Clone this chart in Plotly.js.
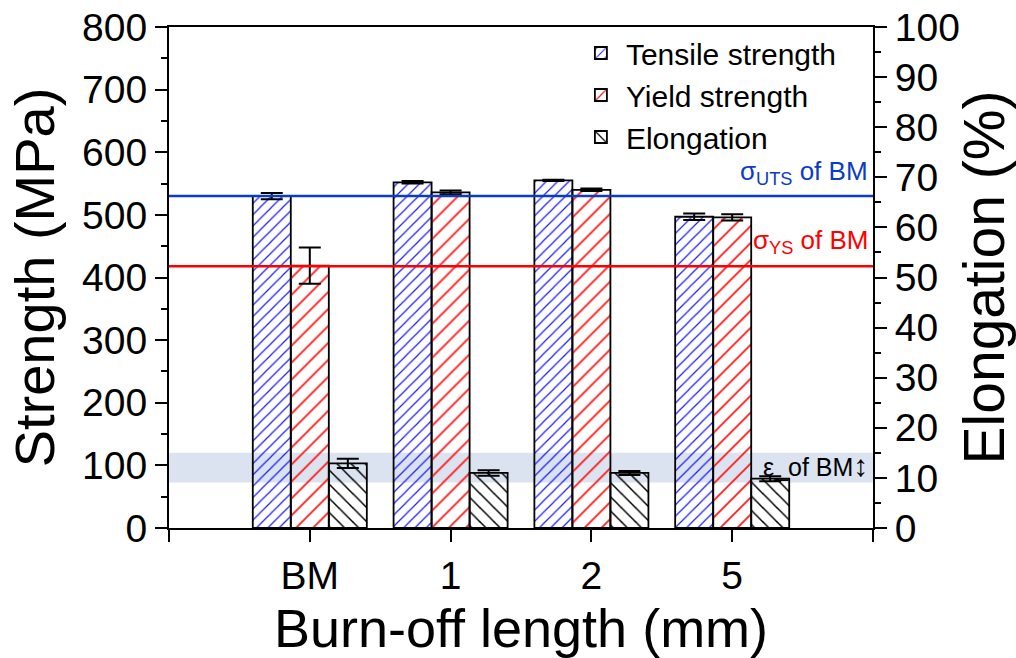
<!DOCTYPE html>
<html>
<head>
<meta charset="utf-8">
<script src="https://cdn.plot.ly/plotly-3.0.1.min.js"></script>
<style>html,body{margin:0;padding:0;background:#fff;}#chart{width:1016px;height:658px;}</style>
</head>
<body>
<div id="chart"></div>
<script>
// Data
const categories = ['BM', '1', '2', '5'];
const tensileStrength = [530, 552, 555, 497];
const tensileErr = [5, 2, 1, 5];
const yieldStrength = [419, 536, 540, 496];
const yieldErr = [29, 3, 2, 5];
const elongation = [12.9, 11.0, 11.0, 9.85];
const elongationErr = [0.9, 0.55, 0.4, 0.5];
const utsBM = 530;
const ysBM = 418;
const elongBandBM = [9.1, 15.0];

const xPos = categories.map((c, i) => i);
const barW = 0.27;
const font = 'Liberation Sans, Arial, sans-serif';

function barTrace(name, y, err, color, shape, size, offset, yaxis) {
  return {
    type: 'bar', name: name, x: xPos, y: y, yaxis: yaxis,
    width: barW, offset: offset,
    marker: {
      color: 'rgba(0,0,0,0)',
      line: {color: '#000', width: 1.8},
      pattern: {shape: shape, fgcolor: color, fgopacity: 1, bgcolor: 'rgba(0,0,0,0)', size: size, solidity: 0.15, fillmode: 'overlay'}
    },
    error_y: {type: 'data', array: err, visible: true, color: '#000', thickness: 2, width: 11}
  };
}

const traces = [
  barTrace('Tensile strength', tensileStrength, tensileErr, '#1a1aff', '/', 8, -1.5 * barW, 'y'),
  barTrace('Yield strength', yieldStrength, yieldErr, '#ff1a1a', '/', 12, -0.5 * barW, 'y'),
  barTrace('Elongation', elongation, elongationErr, '#000000', '\\', 10, 0.5 * barW, 'y2')
];

const axisCommon = {
  showline: true, linecolor: '#000', linewidth: 2,
  ticks: 'outside', ticklen: 12, tickwidth: 2, tickcolor: '#000',
  showgrid: false, zeroline: false,
  tickfont: {family: font, size: 39, color: '#000'}
};

const layout = {
  width: 1016, height: 658,
  margin: {l: 169, r: 143, t: 27, b: 130},
  paper_bgcolor: '#fff', plot_bgcolor: '#fff',
  barmode: 'overlay',
  showlegend: true,
  legend: {
    x: 0.578, y: 1.0, xanchor: 'left', yanchor: 'top',
    bgcolor: 'rgba(0,0,0,0)', font: {family: font, size: 30, color: '#000'},
    tracegroupgap: 0, itemwidth: 40
  },
  xaxis: Object.assign({}, axisCommon, {
    range: [-1, 4], mirror: true,
    tickvals: xPos, ticktext: categories,
    minor: {tickvals: [-1, 4], ticks: 'outside', ticklen: 12, tickwidth: 2, tickcolor: '#000'},
    title: {text: 'Burn-off length (mm)', font: {family: font, size: 54, color: '#000'}, standoff: 14}
  }),
  yaxis: Object.assign({}, axisCommon, {
    range: [0, 800], dtick: 100,
    minor: {dtick: 50, ticks: 'outside', ticklen: 6, tickwidth: 2, tickcolor: '#000'},
    title: {text: 'Strength (MPa)', font: {family: font, size: 56, color: '#000'}, standoff: 10}
  }),
  yaxis2: Object.assign({}, axisCommon, {
    overlaying: 'y', side: 'right',
    range: [0, 100], dtick: 10,
    minor: {dtick: 5, ticks: 'outside', ticklen: 6, tickwidth: 2, tickcolor: '#000'},
    title: {text: 'Elongation (%)', font: {family: font, size: 57, color: '#000'}, standoff: 10}
  }),
  shapes: [
    {type: 'rect', xref: 'paper', yref: 'y2', x0: 0, x1: 1, y0: elongBandBM[0], y1: elongBandBM[1],
     fillcolor: '#dae3ef', line: {width: 0}, layer: 'below'},
    {type: 'line', xref: 'paper', yref: 'y', x0: 0, x1: 1, y0: utsBM, y1: utsBM,
     line: {color: '#0a3cc4', width: 2.5}},
    {type: 'line', xref: 'paper', yref: 'y', x0: 0, x1: 1, y0: ysBM, y1: ysBM,
     line: {color: '#ff0000', width: 2.5}}
  ],
  annotations: [
    {xref: 'paper', yref: 'y', x: 0.996, y: 568, xanchor: 'right', yanchor: 'middle', showarrow: false,
     text: 'σ<sub>UTS</sub> of BM', font: {family: font, size: 26, color: '#0a3cc4'}},
    {xref: 'paper', yref: 'y', x: 0.996, y: 457, xanchor: 'right', yanchor: 'middle', showarrow: false,
     text: 'σ<sub>YS</sub> of BM', font: {family: font, size: 26, color: '#ff0000'}},
    {xref: 'paper', yref: 'y2', x: 0.996, y: 12.4, xanchor: 'right', yanchor: 'middle', showarrow: false,
     text: 'ε_of BM<span style="font-size:30px">↕</span>', font: {family: font, size: 25, color: '#000'}}
  ]
};

Plotly.newPlot('chart', traces, layout, {displayModeBar: false, staticPlot: true});
</script>
</body>
</html>
